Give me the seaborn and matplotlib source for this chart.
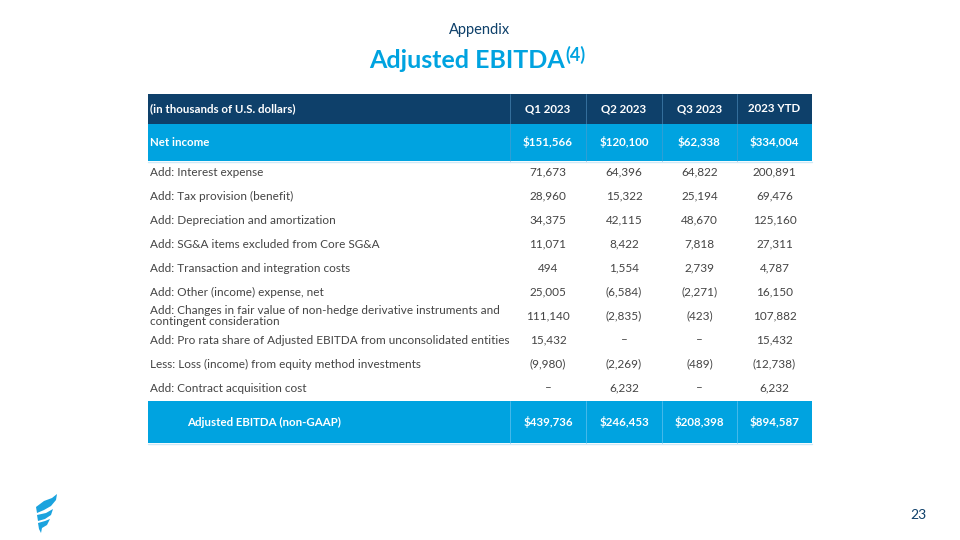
import matplotlib
matplotlib.use("Agg")
import matplotlib.pyplot as plt
import seaborn as sns
from matplotlib.patches import Rectangle, Polygon

sns.set_theme(style="white")
plt.rcParams['font.family'] = ['Lato', 'DejaVu Sans']

# ---- data ----
columns = ["Q1 2023", "Q2 2023", "Q3 2023", "2023 YTD"]
header_label = "(in thousands of U.S. dollars)"
net_income_label = "Net income"
net_income = [151566, 120100, 62338, 334004]
row_labels = [
    "Add: Interest expense",
    "Add: Tax provision (benefit)",
    "Add: Depreciation and amortization",
    "Add: SG&A items excluded from Core SG&A",
    "Add: Transaction and integration costs",
    "Add: Other (income) expense, net",
    "Add: Changes in fair value of non-hedge derivative instruments and\ncontingent consideration",
    "Add: Pro rata share of Adjusted EBITDA from unconsolidated entities",
    "Less: Loss (income) from equity method investments",
    "Add: Contract acquisition cost",
]
q1 = [71673, 28960, 34375, 11071, 494, 25005, 111140, 15432, -9980, None]
q2 = [64396, 15322, 42115, 8422, 1554, -6584, -2835, None, -2269, 6232]
q3 = [64822, 25194, 48670, 7818, 2739, -2271, -423, None, -489, None]
ytd = [200891, 69476, 125160, 27311, 4787, 16150, 107882, 15432, -12738, 6232]
total_label = "Adjusted EBITDA (non-GAAP)"
total = [439736, 246453, 208398, 894587]

NAVY = "#0E406A"
CYAN = "#00A3E0"
TEXT = "#444444"


def fmt(v, dollar=False):
    if v is None:
        return "\u2013"
    s = f"{abs(v):,}"
    if dollar:
        s = "$" + s
    return f"({s})" if v < 0 else s


fig = plt.figure(figsize=(9.6, 5.4), dpi=100)
ax = fig.add_axes([0, 0, 1, 1])
ax.set_xlim(0, 960)
ax.set_ylim(540, 0)
ax.axis("off")

# titles
ax.text(480, 30, "Appendix", ha="center", va="center", fontsize=10.5, color=NAVY)
ax.text(565, 61, "Adjusted EBITDA", ha="right", va="center", fontsize=18,
        color=CYAN, fontweight="bold")
ax.text(565, 55, "(4)", ha="left", va="center", fontsize=13,
        color=CYAN, fontweight="bold")

left, right = 148, 812
col_edges = [510, 586, 662, 737, 812]
col_centers = [(col_edges[i] + col_edges[i + 1]) / 2 for i in range(4)]

HS = 8.3   # header/bold size
BS = 8.5   # body size

# header row
ax.add_patch(Rectangle((left, 94), right - left, 30, color=NAVY, lw=0))
ax.text(150, 109, header_label, ha="left", va="center", fontsize=HS,
        color="white", fontweight="bold")
for c, name in zip(col_centers, columns):
    ax.text(c, 109, name, ha="center", va="center", fontsize=HS,
            color="white", fontweight="bold")

# net income row
ax.add_patch(Rectangle((left, 124), right - left, 37, color=CYAN, lw=0))
ax.text(150, 142.5, net_income_label, ha="left", va="center", fontsize=HS,
        color="white", fontweight="bold")
for c, v in zip(col_centers, net_income):
    ax.text(c, 142.5, fmt(v, True), ha="center", va="center", fontsize=HS,
            color="white", fontweight="bold")
ax.plot([left, right], [161.5, 161.5], color="#cfe9f7", lw=1)

# body rows
row_y = [172, 196, 220, 244, 268, 292, 316, 340, 364, 388]
for i, lab in enumerate(row_labels):
    y = row_y[i]
    ax.text(150, y, lab, ha="left", va="center", fontsize=BS, color=TEXT,
            linespacing=0.9)
    for c, arr in zip(col_centers, [q1, q2, q3, ytd]):
        ax.text(c, y, fmt(arr[i]), ha="center", va="center", fontsize=BS,
                color=TEXT)

# total row
ax.add_patch(Rectangle((left, 401), right - left, 42, color=CYAN, lw=0))
ax.text(187, 422, total_label, ha="left", va="center", fontsize=HS,
        color="white", fontweight="bold")
for c, v in zip(col_centers, total):
    ax.text(c, 422, fmt(v, True), ha="center", va="center", fontsize=HS,
            color="white", fontweight="bold")
ax.plot([left, right], [443.5, 443.5], color="#cfe9f7", lw=1)

# column separators in coloured rows
for x in col_edges[:-1]:
    ax.plot([x, x], [94, 161], color="#5b9ccc", lw=0.6, alpha=0.6)
    ax.plot([x, x], [401, 443], color="#66c3ee", lw=0.6, alpha=0.8)

# page number
ax.text(918, 515, "23", ha="center", va="center", fontsize=10, color=NAVY)

# logo (stylized flame)
logo_col = "#1BA3DE"
ax.add_patch(Polygon([(36, 507), (44, 501), (52, 498), (57, 494), (56, 500),
                      (51, 506), (44, 510), (37, 513)], closed=True, color=logo_col, lw=0))
ax.add_patch(Polygon([(37, 515), (46, 513), (53, 509), (51, 515), (45, 519), (38, 521)],
                     closed=True, color=logo_col, lw=0))
ax.add_patch(Polygon([(38, 523), (45, 521), (50, 519), (47, 525), (42, 528), (41, 533), (39, 529)],
                     closed=True, color=logo_col, lw=0))

fig.savefig("out.png", dpi=100)
